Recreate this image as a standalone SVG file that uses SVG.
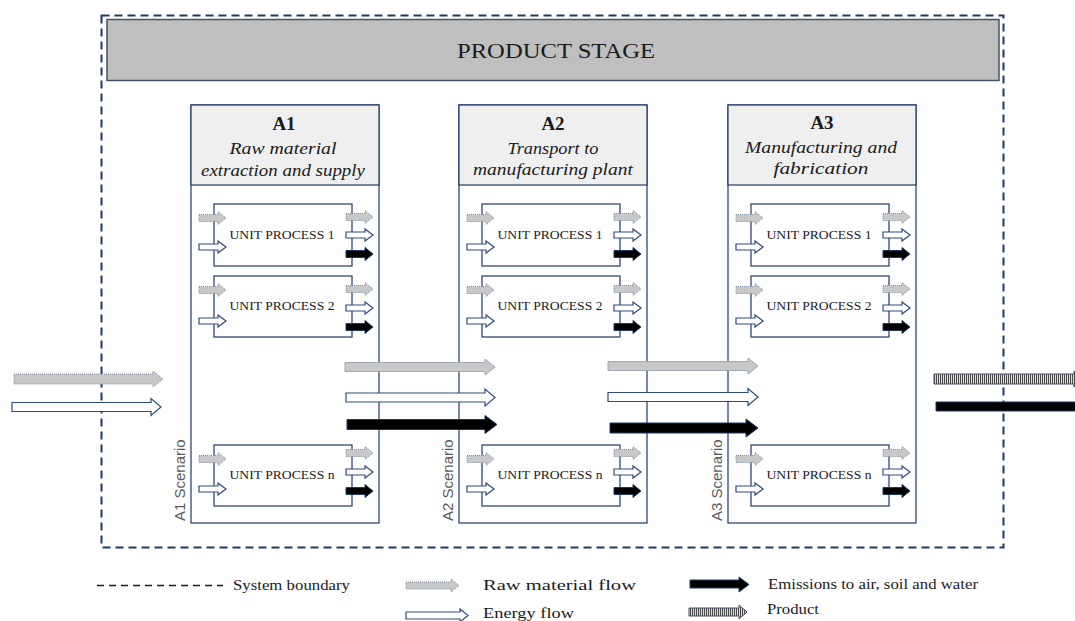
<svg xmlns="http://www.w3.org/2000/svg" xmlns:xlink="http://www.w3.org/1999/xlink" width="1075" height="621" viewBox="0 0 1075 621">
  <style>
    .serif { font-family: "Liberation Serif", "Times New Roman", serif; fill: #1a1a1a; }
    .sans { font-family: "Liberation Sans", Arial, sans-serif; fill: #595959; }
    .col { fill: #ffffff; stroke: #1f3864; stroke-width: 1.2; }
    .hdr { fill: #efefef; stroke: #1f3864; stroke-width: 1.2; }
    .up { fill: #ffffff; stroke: #1f3864; stroke-width: 1.2; }
    .up-label { font-size: 13px; text-anchor: middle; }
    .hdr-id { font-size: 19px; font-weight: bold; text-anchor: middle; }
    .hdr-txt { font-size: 17px; font-style: italic; text-anchor: middle; }
    .raw { fill: #c8c8c8; stroke: #7f8ea3; stroke-width: 1; stroke-dasharray: 1 1; }
    .raw-big { fill: #c8c8c8; stroke: #a0a8b4; stroke-width: 1; }
    .energy { fill: #ffffff; stroke: #2f4b7c; stroke-width: 1.2; }
    .emis { fill: #000000; stroke: #1f3864; stroke-width: 1; }
    .prod { fill: url(#stripes); stroke: #44546a; stroke-width: 1; }
    .legend { font-size: 14px; }
  </style>
  <defs>
    <pattern id="stripes" patternUnits="userSpaceOnUse" width="2" height="4">
      <rect width="2" height="4" fill="#dcdcdc"/>
      <rect width="1" height="4" fill="#4a4a4a"/>
    </pattern>
    <!-- small flow arrows, origin at tail centre -->
    <path id="sa-raw" class="raw" d="M0,-3.5 H19 V-6.5 L27,0 L19,6.5 V3.5 H0 Z"/>
    <path id="sa-energy" class="energy" d="M0,-3 H19 V-6 L27,0 L19,6 V3 H0 Z"/>
    <path id="sa-emis" class="emis" d="M0,-3.5 H19 V-6.5 L27,0 L19,6.5 V3.5 H0 Z"/>
  </defs>

  <rect width="1075" height="621" fill="#ffffff"/>

  <!-- system boundary -->
  <g id="system-boundary">
    <rect x="101.5" y="15.5" width="902" height="532" fill="none" stroke="#1f3864" stroke-width="2" stroke-dasharray="8 5"/>
  </g>

  <!-- product stage banner -->
  <g id="product-stage">
    <rect x="107" y="19.5" width="892" height="61" fill="#bfbfbf" stroke="#44546a" stroke-width="1.5"/>
    <text class="serif" x="556" y="58" font-size="21" text-anchor="middle" textLength="198" lengthAdjust="spacingAndGlyphs">PRODUCT STAGE</text>
  </g>

  <!-- A1 -->
  <g id="module-a1">
    <rect class="col" x="191" y="105" width="188" height="418"/>
    <rect class="hdr" x="191" y="105" width="188" height="80"/>
    <text class="serif hdr-id" x="284" y="130">A1</text>
    <text class="serif hdr-txt" x="283" y="154" textLength="107" lengthAdjust="spacingAndGlyphs">Raw material</text>
    <text class="serif hdr-txt" x="283" y="176" textLength="164" lengthAdjust="spacingAndGlyphs">extraction and supply</text>
    <text class="sans" font-size="15" transform="translate(185,521) rotate(-90)">A1 Scenario</text>
    <g id="a1-up1">
      <rect class="up" x="214" y="204" width="138" height="62"/>
      <text class="serif up-label" x="282" y="239" textLength="105" lengthAdjust="spacingAndGlyphs">UNIT PROCESS 1</text>
      <use xlink:href="#sa-raw" x="199" y="218"/>
      <use xlink:href="#sa-energy" x="199" y="247"/>
      <use xlink:href="#sa-raw" x="346" y="217"/>
      <use xlink:href="#sa-energy" x="346" y="235"/>
      <use xlink:href="#sa-emis" x="346" y="254"/>
    </g>
    <g id="a1-up2">
      <rect class="up" x="214" y="276" width="138" height="61"/>
      <text class="serif up-label" x="282" y="310" textLength="105" lengthAdjust="spacingAndGlyphs">UNIT PROCESS 2</text>
      <use xlink:href="#sa-raw" x="199" y="290"/>
      <use xlink:href="#sa-energy" x="199" y="321"/>
      <use xlink:href="#sa-raw" x="346" y="289"/>
      <use xlink:href="#sa-energy" x="346" y="308"/>
      <use xlink:href="#sa-emis" x="346" y="327"/>
    </g>
    <g id="a1-upn">
      <rect class="up" x="214" y="445" width="138" height="61"/>
      <text class="serif up-label" x="282" y="479" textLength="105" lengthAdjust="spacingAndGlyphs">UNIT PROCESS n</text>
      <use xlink:href="#sa-raw" x="199" y="459"/>
      <use xlink:href="#sa-energy" x="199" y="489"/>
      <use xlink:href="#sa-raw" x="346" y="453"/>
      <use xlink:href="#sa-energy" x="346" y="472"/>
      <use xlink:href="#sa-emis" x="346" y="491"/>
    </g>
  </g>

  <!-- A2 -->
  <g id="module-a2">
    <rect class="col" x="459" y="105" width="188" height="418"/>
    <rect class="hdr" x="459" y="105" width="188" height="80"/>
    <text class="serif hdr-id" x="553" y="130">A2</text>
    <text class="serif hdr-txt" x="553" y="154" textLength="91" lengthAdjust="spacingAndGlyphs">Transport to</text>
    <text class="serif hdr-txt" x="553" y="175" textLength="160" lengthAdjust="spacingAndGlyphs">manufacturing plant</text>
    <text class="sans" font-size="15" transform="translate(453,521) rotate(-90)">A2 Scenario</text>
    <g id="a2-up1">
      <rect class="up" x="482" y="204" width="138" height="62"/>
      <text class="serif up-label" x="550" y="239" textLength="105" lengthAdjust="spacingAndGlyphs">UNIT PROCESS 1</text>
      <use xlink:href="#sa-raw" x="467" y="218"/>
      <use xlink:href="#sa-energy" x="467" y="247"/>
      <use xlink:href="#sa-raw" x="614" y="217"/>
      <use xlink:href="#sa-energy" x="614" y="235"/>
      <use xlink:href="#sa-emis" x="614" y="254"/>
    </g>
    <g id="a2-up2">
      <rect class="up" x="482" y="276" width="138" height="61"/>
      <text class="serif up-label" x="550" y="310" textLength="105" lengthAdjust="spacingAndGlyphs">UNIT PROCESS 2</text>
      <use xlink:href="#sa-raw" x="467" y="290"/>
      <use xlink:href="#sa-energy" x="467" y="321"/>
      <use xlink:href="#sa-raw" x="614" y="289"/>
      <use xlink:href="#sa-energy" x="614" y="308"/>
      <use xlink:href="#sa-emis" x="614" y="327"/>
    </g>
    <g id="a2-upn">
      <rect class="up" x="482" y="445" width="138" height="61"/>
      <text class="serif up-label" x="550" y="479" textLength="105" lengthAdjust="spacingAndGlyphs">UNIT PROCESS n</text>
      <use xlink:href="#sa-raw" x="467" y="459"/>
      <use xlink:href="#sa-energy" x="467" y="489"/>
      <use xlink:href="#sa-raw" x="614" y="453"/>
      <use xlink:href="#sa-energy" x="614" y="472"/>
      <use xlink:href="#sa-emis" x="614" y="491"/>
    </g>
  </g>

  <!-- A3 -->
  <g id="module-a3">
    <rect class="col" x="728" y="105" width="188" height="418"/>
    <rect class="hdr" x="728" y="105" width="188" height="80"/>
    <text class="serif hdr-id" x="822" y="129">A3</text>
    <text class="serif hdr-txt" x="821" y="153" textLength="152" lengthAdjust="spacingAndGlyphs">Manufacturing and</text>
    <text class="serif hdr-txt" x="821" y="174" textLength="95" lengthAdjust="spacingAndGlyphs">fabrication</text>
    <text class="sans" font-size="15" transform="translate(722,521) rotate(-90)">A3 Scenario</text>
    <g id="a3-up1">
      <rect class="up" x="751" y="204" width="138" height="62"/>
      <text class="serif up-label" x="819" y="239" textLength="105" lengthAdjust="spacingAndGlyphs">UNIT PROCESS 1</text>
      <use xlink:href="#sa-raw" x="736" y="218"/>
      <use xlink:href="#sa-energy" x="736" y="247"/>
      <use xlink:href="#sa-raw" x="883" y="217"/>
      <use xlink:href="#sa-energy" x="883" y="235"/>
      <use xlink:href="#sa-emis" x="883" y="254"/>
    </g>
    <g id="a3-up2">
      <rect class="up" x="751" y="276" width="138" height="61"/>
      <text class="serif up-label" x="819" y="310" textLength="105" lengthAdjust="spacingAndGlyphs">UNIT PROCESS 2</text>
      <use xlink:href="#sa-raw" x="736" y="290"/>
      <use xlink:href="#sa-energy" x="736" y="321"/>
      <use xlink:href="#sa-raw" x="883" y="289"/>
      <use xlink:href="#sa-energy" x="883" y="308"/>
      <use xlink:href="#sa-emis" x="883" y="327"/>
    </g>
    <g id="a3-upn">
      <rect class="up" x="751" y="445" width="138" height="61"/>
      <text class="serif up-label" x="819" y="479" textLength="105" lengthAdjust="spacingAndGlyphs">UNIT PROCESS n</text>
      <use xlink:href="#sa-raw" x="736" y="459"/>
      <use xlink:href="#sa-energy" x="736" y="489"/>
      <use xlink:href="#sa-raw" x="883" y="453"/>
      <use xlink:href="#sa-energy" x="883" y="472"/>
      <use xlink:href="#sa-emis" x="883" y="491"/>
    </g>
  </g>

  <!-- flows between stages -->
  <g id="connectors">
    <!-- inputs -->
    <path class="raw" d="M14,374 H153 V371 L163,379 L153,387 V384 H14 Z"/>
    <path class="energy" d="M12,402.5 H151 V398.5 L161,407 L151,415.5 V411.5 H12 Z"/>
    <!-- A1 to A2 -->
    <path class="raw-big" d="M345,362.5 H485 V359 L495,367 L485,375 V371.5 H345 Z"/>
    <path class="energy" d="M346,393 H485 V389 L495,397.5 L485,406 V402 H346 Z"/>
    <path class="emis" d="M347,419.5 H485 V415.5 L497,424.5 L485,433.5 V429.5 H347 Z"/>
    <!-- A2 to A3 -->
    <path class="raw-big" d="M608,361.5 H748 V358 L758,366 L748,374 V370.5 H608 Z"/>
    <path class="energy" d="M608,392.5 H748 V388.5 L758,397 L748,405.5 V401.5 H608 Z"/>
    <path class="emis" d="M610,423 H746 V419 L758,428 L746,437 V433 H610 Z"/>
    <!-- outputs -->
    <path class="prod" d="M934,374 H1074 V371 L1084,379 L1074,387 V384 H934 Z"/>
    <path class="emis" d="M936,402 H1080 V411 H936 Z"/>
  </g>

  <!-- legend -->
  <g id="legend">
    <line x1="97" y1="585.5" x2="223" y2="585.5" stroke="#1a1a1a" stroke-width="1.6" stroke-dasharray="7 5"/>
    <text class="serif legend" x="233" y="590" textLength="117" lengthAdjust="spacingAndGlyphs">System boundary</text>
    <path class="raw" d="M406,582 H451 V579 L459,585.5 L451,592 V589 H406 Z"/>
    <text class="serif legend" x="483" y="590" textLength="153" lengthAdjust="spacingAndGlyphs">Raw material flow</text>
    <path class="energy" d="M406,612 H460 V609 L468,615.5 L460,622 V619 H406 Z"/>
    <text class="serif legend" x="483" y="618" textLength="91" lengthAdjust="spacingAndGlyphs">Energy flow</text>
    <path class="emis" d="M690,580 H739 V577 L749,584.5 L739,592 V588 H690 Z"/>
    <text class="serif legend" x="768" y="589" textLength="210" lengthAdjust="spacingAndGlyphs">Emissions  to air, soil and water</text>
    <path class="prod" d="M689,608 H739 V605 L747,612 L739,619 V616 H689 Z"/>
    <text class="serif legend" x="767" y="614" textLength="52" lengthAdjust="spacingAndGlyphs">Product</text>
  </g>
</svg>
